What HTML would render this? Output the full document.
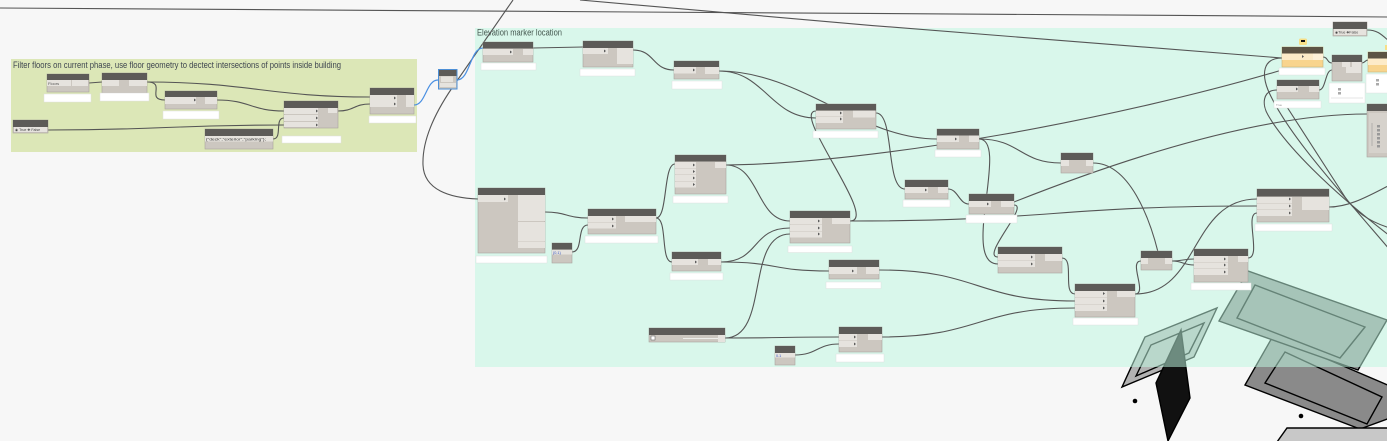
<!DOCTYPE html>
<html><head><meta charset="utf-8"><style>
html,body{margin:0;padding:0;background:#f7f7f7;overflow:hidden}
svg{display:block}
.h{fill:#5d5b58}.b{fill:#ccc7c0;stroke:#a9a49d;stroke-width:.6}.l{fill:#e6e3de}
.p{fill:#fff;stroke:#e0e0e0;stroke-width:.5}.a{fill:#5a5a5a}
.w{fill:none;stroke:#555;stroke-width:1.1}
.bw{fill:none;stroke:#4a90e2;stroke-width:1.2}
.t{font-family:"Liberation Sans",sans-serif}
</style></head><body>
<svg width="1387" height="441" viewBox="0 0 1387 441" xmlns="http://www.w3.org/2000/svg">
<rect width="1387" height="441" fill="#f7f7f7"/>
<!-- geometry -->
<g stroke="#000" stroke-width="1.4" stroke-linejoin="miter">
<polygon points="1245,385 1273,336 1390,386 1390,418 1360,429" fill="#8a8a8a"/>
<polygon points="1265,383 1285,352 1382,397 1367,424" fill="none"/>
<polygon points="1219,321 1248,271 1387,320 1358,370" fill="#8a8a8a"/>
<polygon points="1237,318 1255,285 1365,327 1340,358" fill="none"/>
<polygon points="1122,387 1145,337 1217,308 1194,357" fill="#b2b2b2"/>
<polygon points="1136,376 1151,345 1204,323 1189,353" fill="none"/>
<polygon points="1181,330 1190,398 1168,441 1156,383" fill="#111"/>
<polygon points="1277,442 1287,428 1390,428 1390,442" fill="#c8c8c8"/>
</g>
<circle cx="1135" cy="401" r="2.3" fill="#000"/>
<circle cx="1301" cy="416" r="2.3" fill="#000"/>
<!-- groups -->
<rect x="11" y="59" width="406" height="93" fill="#dce7b7"/>
<rect x="475" y="28" width="912" height="339" fill="rgb(191,248,225)" fill-opacity="0.53"/>
<text class="t" x="13" y="68" font-size="9" fill="#3f4650" textLength="328" lengthAdjust="spacingAndGlyphs">Filter floors on current phase, use floor geometry to dectect intersections of points inside building</text>
<text class="t" x="477" y="35.5" font-size="9" fill="#44574f" textLength="85" lengthAdjust="spacingAndGlyphs">Elevation marker location</text>
<!-- wires -->
<path class="w" d="M0 8 C400 10 900 13 1387 17" stroke="#666"/>
<path class="w" d="M580 0 C800 20 1100 45 1282 58"/>
<path class="w" d="M513 0 L452 88 C435 113 422 140 423 165 C424 190 450 198 478 199"/>
<path class="w" d="M89 83 L102 82"/>
<path class="w" d="M147 82 C247 82 270 97 370 97"/>
<path class="w" d="M147 82 C167 82 145 100 165 100"/>
<path class="w" d="M217 100 C250 100 251 111 284 111"/>
<path class="w" d="M48 130 C166 130 166 125 284 125"/>
<path class="w" d="M273 139 C283 139 274 118 284 118"/>
<path class="w" d="M338 111 C354 111 354 104 370 104"/>
<path class="bw" d="M414 105 C426 105 426 80 438 80"/>
<path class="bw" d="M457 80 C470 80 470 48 483 48"/>
<path class="w" d="M533 48 L583 47"/>
<path class="w" d="M633 50 C655 50 652 70 674 70"/>
<path class="w" d="M719 71 C765 71 770 118 816 118"/>
<path class="w" d="M719 71 C800 71 860 139 937 139"/>
<path class="w" d="M876 113 C895 113 885 189 905 189"/>
<path class="w" d="M850 221 C880 221 790 111 816 111"/>
<path class="w" d="M979 139 C1020 139 1020 163 1061 163"/>
<path class="w" d="M979 139 C1010 139 960 264 998 264"/>
<path class="w" d="M726 165 C880 163 1120 118 1282 70"/>
<path class="w" d="M726 165 C760 165 756 221 790 221"/>
<path class="w" d="M545 212 C566 212 567 218 588 218"/>
<path class="w" d="M572 252 C584 252 576 225 588 225"/>
<path class="w" d="M656 218 C668 218 663 164 675 164"/>
<path class="w" d="M656 218 C668 218 660 262 672 262"/>
<path class="w" d="M721 262 C760 262 751 228 790 228"/>
<path class="w" d="M721 262 C780 262 770 271 829 271"/>
<path class="w" d="M725 338 C770 338 745 234 790 234"/>
<path class="w" d="M725 338 C780 338 784 337 839 337"/>
<path class="w" d="M795 355 C817 355 817 344 839 344"/>
<path class="w" d="M850 221 C1050 221 1057 206 1257 206"/>
<path class="w" d="M879 270 C980 270 975 301 1075 301"/>
<path class="w" d="M882 337 C980 337 977 308 1075 308"/>
<path class="w" d="M948 189 C958 189 959 204 969 204"/>
<path class="w" d="M1014 202 C1100 168 1250 114 1367 114"/>
<path class="w" d="M1014 205 C1030 205 980 257 998 257"/>
<path class="w" d="M1062 258 C1075 258 1062 294 1075 294"/>
<path class="w" d="M1093 163 C1130 163 1150 220 1158 252"/>
<path class="w" d="M1135 294 C1148 294 1128 261 1141 261"/>
<path class="w" d="M1135 294 C1200 294 1190 199 1257 199"/>
<path class="w" d="M1172 261 C1183 261 1183 259 1194 259"/>
<path class="w" d="M1172 261 C1183 261 1183 265 1194 265"/>
<path class="w" d="M1248 258 C1262 258 1244 213 1257 213"/>
<path class="w" d="M1329 207 C1350 207 1370 195 1390 185"/>
<path class="w" d="M1282 58 C1262 58 1262 75 1268 90 C1285 130 1330 180 1390 250"/>
<path class="w" d="M1277 90 C1262 90 1262 105 1268 115 C1285 145 1330 190 1390 236"/>
<path class="w" d="M1287 107 L1345 197 C1355 212 1370 222 1390 228"/>
<path class="w" d="M1323 57 C1328 57 1327 63 1332 63"/>
<path class="w" d="M1319 90 C1326 90 1325 70 1332 70"/>
<path class="w" d="M1362 63 C1365 63 1365 60 1368 60"/>
<path class="w" d="M1367 30 C1378 30 1382 35 1390 42"/>
<!-- group 1 nodes -->
<rect class="b" x="47" y="74" width="42" height="18"/><rect class="h" x="47" y="74" width="42" height="6"/>
<rect class="l" x="47" y="80" width="24" height="6"/><rect class="l" x="72" y="80" width="16" height="6"/>
<text class="t" x="48" y="85" font-size="4" fill="#555">Floors</text>
<rect class="p" x="44" y="94" width="47" height="8"/>
<rect class="b" x="102" y="73" width="45" height="20"/><rect class="h" x="102" y="73" width="45" height="7"/>
<rect class="l" x="102" y="80" width="17" height="6"/><rect class="l" x="129" y="80" width="18" height="6"/>
<rect class="p" x="100" y="93" width="49" height="8"/>
<rect class="b" x="165" y="91" width="52" height="18"/><rect class="h" x="165" y="91" width="52" height="6"/>
<rect class="l" x="165" y="97" width="31" height="7"/><path class="a" d="M194 98.5l2 1.5-2 1.5z"/><rect class="l" x="205" y="97" width="12" height="7"/>
<rect class="p" x="163" y="111" width="56" height="8"/>
<rect class="b" x="284" y="101" width="54" height="27"/><rect class="h" x="284" y="101" width="54" height="7"/>
<rect class="l" x="284" y="108" width="34" height="6"/><rect class="l" x="284" y="115" width="34" height="6"/><rect class="l" x="284" y="122" width="34" height="5"/>
<path class="a" d="M316 109.5l2 1.5-2 1.5zM316 116.5l2 1.5-2 1.5zM316 123.5l2 1.5-2 1.5z"/>
<rect class="l" x="328" y="108" width="9" height="5"/>
<rect class="p" x="282" y="136" width="59" height="7"/>
<rect class="b" x="370" y="88" width="44" height="26"/><rect class="h" x="370" y="88" width="44" height="7"/>
<rect class="l" x="370" y="95" width="27" height="6"/><rect class="l" x="370" y="101" width="27" height="6"/>
<path class="a" d="M394 96.5l2 1.5-2 1.5zM394 102.5l2 1.5-2 1.5z"/><rect class="l" x="406" y="95" width="8" height="12"/>
<rect class="p" x="369" y="116" width="47" height="7"/>
<rect class="b" x="13" y="120" width="35" height="13"/><rect class="h" x="13" y="120" width="35" height="7"/>
<rect class="l" x="14" y="127" width="33" height="5"/>
<text class="t" x="15" y="131" font-size="3.6" fill="#444">◉ True  ✚ False</text>
<rect class="b" x="205" y="129" width="68" height="20"/><rect class="h" x="205" y="129" width="68" height="7"/>
<rect class="l" x="205" y="136" width="68" height="5.5"/>
<text class="t" x="206" y="140.3" font-size="4" fill="#333" textLength="60" lengthAdjust="spacingAndGlyphs">{"deck","exterior","parking"};</text>
<rect x="438.5" y="69.5" width="18.5" height="19.5" fill="#ccc7c0" stroke="#4d8fd6" stroke-width="1"/>
<rect class="h" x="439" y="70" width="17.5" height="6"/><rect class="l" x="441" y="76.5" width="12" height="5.5"/><rect class="l" x="440" y="83" width="16" height="4"/>
<!-- elevation nodes -->
<rect class="b" x="483" y="42" width="50" height="20"/><rect class="h" x="483" y="42" width="50" height="6.5"/>
<rect class="l" x="483" y="49" width="30" height="6"/><path class="a" d="M510 50.5l2 1.5-2 1.5z"/><rect class="l" x="523" y="49" width="10" height="6"/>
<rect class="p" x="481" y="63" width="55" height="7"/>
<rect class="b" x="583" y="41" width="50" height="26"/><rect class="h" x="583" y="41" width="50" height="7"/>
<rect class="l" x="583" y="48" width="25" height="6"/><path class="a" d="M604 49.5l2 1.5-2 1.5z"/><rect class="l" x="617" y="48" width="16" height="16"/>
<rect class="p" x="580" y="69" width="55" height="7"/>
<rect class="b" x="674" y="61" width="45" height="18"/><rect class="h" x="674" y="61" width="45" height="6"/>
<rect class="l" x="674" y="67" width="22" height="6.5"/><path class="a" d="M693 68.5l2 1.5-2 1.5z"/><rect class="l" x="705" y="67" width="14" height="7"/>
<rect class="p" x="672" y="81" width="50" height="8"/>
<rect class="b" x="816" y="104" width="60" height="25"/><rect class="h" x="816" y="104" width="60" height="6.5"/>
<rect class="l" x="816" y="111" width="27" height="5.5"/><rect class="l" x="816" y="117" width="27" height="6"/>
<path class="a" d="M840 111.5l2 1.5-2 1.5zM840 117.5l2 1.5-2 1.5z"/><rect class="l" x="853" y="110.5" width="22" height="7"/>
<rect class="p" x="813" y="131" width="65" height="7"/>
<rect class="b" x="675" y="155" width="51" height="39"/><rect class="h" x="675" y="155" width="51" height="6.5"/>
<rect class="l" x="675" y="162" width="21" height="6"/><rect class="l" x="675" y="168.5" width="21" height="6"/><rect class="l" x="675" y="175" width="21" height="6"/><rect class="l" x="675" y="181.5" width="21" height="6"/>
<path class="a" d="M693 163.5l2 1.5-2 1.5zM693 170l2 1.5-2 1.5zM693 176.5l2 1.5-2 1.5zM693 183l2 1.5-2 1.5z"/><rect class="l" x="715" y="162" width="11" height="6"/>
<rect class="p" x="673" y="196" width="55" height="7"/>
<rect class="b" x="478" y="188" width="67" height="65"/><rect class="h" x="478" y="188" width="67" height="7"/>
<rect class="l" x="478" y="195" width="30" height="7"/><path class="a" d="M504 197.5l2 1.5-2 1.5z"/>
<rect class="l" x="518" y="195" width="27" height="26"/><rect class="l" x="518" y="222" width="27" height="19.5"/><rect class="l" x="518" y="242" width="27" height="6"/>
<rect class="p" x="476" y="256" width="71" height="7"/>
<rect class="b" x="588" y="209" width="68" height="25"/><rect class="h" x="588" y="209" width="68" height="7"/>
<rect class="l" x="588" y="216" width="28" height="6"/><rect class="l" x="588" y="222.5" width="28" height="6"/>
<path class="a" d="M612 217.5l2 1.5-2 1.5zM612 224.5l2 1.5-2 1.5z"/><rect class="l" x="625" y="216" width="31" height="6"/>
<rect class="p" x="585" y="236" width="73" height="7"/>
<rect class="b" x="552" y="243" width="20" height="20"/><rect class="h" x="552" y="243" width="20" height="6.5"/>
<rect class="l" x="552" y="250" width="20" height="4.5"/><text class="t" x="553" y="254" font-size="3.8" fill="#3b5bc4">{0,1}</text>
<rect class="b" x="672" y="252" width="49" height="19"/><rect class="h" x="672" y="252" width="49" height="7"/>
<rect class="l" x="672" y="259" width="26" height="6"/><path class="a" d="M695 260.5l2 1.5-2 1.5z"/><rect class="l" x="708" y="259" width="13" height="6"/>
<rect class="p" x="670" y="273" width="53" height="7"/>
<rect class="b" x="790" y="211" width="60" height="32"/><rect class="h" x="790" y="211" width="60" height="7"/>
<rect class="l" x="790" y="218" width="32" height="6"/><rect class="l" x="790" y="224.5" width="32" height="6.5"/><rect class="l" x="790" y="231.5" width="32" height="6"/>
<path class="a" d="M818 219.5l2 1.5-2 1.5zM818 226.5l2 1.5-2 1.5zM818 232.5l2 1.5-2 1.5z"/><rect class="l" x="832" y="218" width="18" height="6"/>
<rect class="p" x="788" y="246" width="64" height="6.5"/>
<rect class="b" x="829" y="260" width="50" height="19"/><rect class="h" x="829" y="260" width="50" height="7"/>
<rect class="l" x="829" y="267" width="28" height="7"/><path class="a" d="M852 269.5l2 1.5-2 1.5z"/><rect class="l" x="866" y="267" width="13" height="7"/>
<rect class="p" x="826" y="282" width="55" height="6.5"/>
<rect class="b" x="649" y="328" width="76" height="14"/><rect class="h" x="649" y="328" width="76" height="7"/>
<rect x="651" y="336" width="4" height="4" fill="#fff" stroke="#555" stroke-width=".5"/>
<line x1="683" y1="338.5" x2="718" y2="338.5" stroke="#eeeeea" stroke-width="1"/><rect class="l" x="718" y="335" width="7" height="7"/>
<rect class="b" x="775" y="346" width="20" height="19"/><rect class="h" x="775" y="346" width="20" height="7"/>
<rect class="l" x="775" y="353" width="20" height="4.5"/><text class="t" x="776" y="357" font-size="3.8" fill="#3b5bc4">0.1</text>
<rect class="b" x="839" y="327" width="43" height="25"/><rect class="h" x="839" y="327" width="43" height="7"/>
<rect class="l" x="839" y="334" width="18" height="6.5"/><rect class="l" x="839" y="341" width="18" height="6"/>
<path class="a" d="M854 335.5l2 1.5-2 1.5zM854 342.5l2 1.5-2 1.5z"/><rect class="l" x="868" y="334" width="14" height="6"/>
<rect class="p" x="836" y="354" width="48" height="8"/>
<rect class="b" x="937" y="129" width="42" height="20"/><rect class="h" x="937" y="129" width="42" height="6.5"/>
<rect class="l" x="937" y="135.5" width="22" height="6.5"/><path class="a" d="M955 137.5l2 1.5-2 1.5z"/><rect class="l" x="969" y="135.5" width="10" height="6.5"/>
<rect class="p" x="935" y="150" width="46" height="7"/>
<rect class="b" x="1061" y="153" width="32" height="20"/><rect class="h" x="1061" y="153" width="32" height="7"/>
<rect class="l" x="1061" y="160" width="8" height="6"/><rect class="l" x="1086" y="160" width="7" height="6"/>
<rect class="b" x="905" y="180" width="43" height="19"/><rect class="h" x="905" y="180" width="43" height="7"/>
<rect class="l" x="905" y="187" width="23" height="6"/><path class="a" d="M925 188.5l2 1.5-2 1.5z"/><rect class="l" x="938" y="187" width="10" height="6"/>
<rect class="p" x="903" y="200" width="47" height="7"/>
<rect class="b" x="969" y="194" width="45" height="20"/><rect class="h" x="969" y="194" width="45" height="7"/>
<rect class="l" x="969" y="201" width="22" height="6"/><path class="a" d="M987 202.5l2 1.5-2 1.5z"/><rect class="l" x="1001" y="201" width="13" height="6"/>
<rect class="p" x="966" y="215" width="51" height="8"/>
<rect class="b" x="998" y="247" width="64" height="26"/><rect class="h" x="998" y="247" width="64" height="7"/>
<rect class="l" x="998" y="254" width="37" height="6"/><rect class="l" x="998" y="260.5" width="37" height="6.5"/>
<path class="a" d="M1031 255.5l2 1.5-2 1.5zM1031 262.5l2 1.5-2 1.5z"/><rect class="l" x="1045" y="254" width="17" height="7"/>
<rect class="b" x="1075" y="284" width="60" height="33"/><rect class="h" x="1075" y="284" width="60" height="7"/>
<rect class="l" x="1075" y="291" width="32" height="6.5"/><rect class="l" x="1075" y="298" width="32" height="6.5"/><rect class="l" x="1075" y="305" width="32" height="6"/>
<path class="a" d="M1103 292l2 1.5-2 1.5zM1103 299.5l2 1.5-2 1.5zM1103 306.5l2 1.5-2 1.5z"/><rect class="l" x="1117" y="291" width="18" height="6"/>
<rect class="p" x="1073" y="318" width="65" height="7"/>
<rect class="b" x="1141" y="251" width="31" height="19"/><rect class="h" x="1141" y="251" width="31" height="7"/>
<rect class="l" x="1141" y="258" width="7" height="6"/><rect class="l" x="1165" y="258" width="7" height="6"/>
<rect class="b" x="1194" y="249" width="54" height="33"/><rect class="h" x="1194" y="249" width="54" height="7"/>
<rect class="l" x="1194" y="256" width="34" height="6"/><rect class="l" x="1194" y="262.5" width="34" height="6"/><rect class="l" x="1194" y="269" width="34" height="6"/>
<path class="a" d="M1224 257.5l2 1.5-2 1.5zM1224 263.5l2 1.5-2 1.5zM1224 270.5l2 1.5-2 1.5z"/><rect class="l" x="1238" y="256" width="10" height="6"/>
<rect class="p" x="1191" y="283" width="60" height="7"/>
<rect class="b" x="1257" y="189" width="72" height="33"/><rect class="h" x="1257" y="189" width="72" height="7.5"/>
<rect class="l" x="1257" y="197" width="35" height="6"/><rect class="l" x="1257" y="203.5" width="35" height="6"/><rect class="l" x="1257" y="210" width="35" height="6"/>
<path class="a" d="M1289 197.5l2 1.5-2 1.5zM1289 204.5l2 1.5-2 1.5zM1289 211.5l2 1.5-2 1.5z"/><rect class="l" x="1302" y="197" width="27" height="13"/>
<rect class="p" x="1255" y="224" width="77" height="7"/>
<!-- right cluster -->
<rect class="b" x="1333" y="22" width="34" height="14"/><rect class="h" x="1333" y="22" width="34" height="7"/>
<rect class="l" x="1334" y="29" width="32" height="6"/><text class="t" x="1335" y="33.5" font-size="3.6" fill="#444">◉True ✚False</text>
<rect x="1299" y="38.5" width="8" height="6.5" rx="1.5" fill="#f7df87"/><rect x="1301" y="40" width="4" height="2" fill="#111"/>
<rect x="1282" y="47" width="41" height="20" fill="#f8d48d" stroke="#c9b37a" stroke-width=".6"/>
<rect x="1282" y="47" width="41" height="6.5" fill="#5c5344"/>
<rect x="1282" y="53.5" width="31" height="6.5" fill="#fdebc8"/><rect x="1313" y="53.5" width="10" height="6.5" fill="#fef1d8"/>
<path class="a" d="M1302 55l2 1.5-2 1.5z"/>
<rect class="p" x="1279" y="68" width="46" height="7"/>
<rect class="b" x="1277" y="80" width="42" height="19"/><rect class="h" x="1277" y="80" width="42" height="6"/>
<rect class="l" x="1277" y="86" width="21" height="6"/><path class="a" d="M1296 87.5l2 1.5-2 1.5z"/><rect class="l" x="1309" y="86" width="10" height="6"/>
<rect class="p" x="1274" y="101" width="47" height="7"/><text class="t" x="1276" y="106" font-size="3" fill="#999">True</text>
<rect class="b" x="1332" y="55" width="30" height="26"/><rect class="h" x="1332" y="55" width="30" height="7"/>
<rect class="l" x="1342" y="62" width="8" height="5"/><rect class="l" x="1352" y="62" width="9" height="5"/><rect class="l" x="1346" y="67" width="15" height="6"/>
<rect class="p" x="1329" y="83" width="36" height="20"/>
<rect x="1338" y="88" width="3" height="2.5" fill="#aaa"/><rect x="1338" y="92" width="3" height="2.5" fill="#aaa"/>
<line x1="1331" y1="98" x2="1363" y2="98" stroke="#ccc" stroke-width=".5"/>
<rect x="1368" y="52" width="22" height="20" fill="#f8d48d" stroke="#c9b37a" stroke-width=".6"/>
<rect x="1368" y="52" width="22" height="6.5" fill="#5c5344"/><rect x="1368" y="58.5" width="22" height="6.5" fill="#fdebc8"/>
<rect x="1385" y="45" width="4" height="5" fill="#f7df87"/>
<rect class="p" x="1366" y="74" width="24" height="19"/>
<rect x="1376" y="79" width="3" height="2.5" fill="#aaa"/><rect x="1376" y="83" width="3" height="2.5" fill="#aaa"/>
<rect class="b" x="1367" y="104" width="23" height="53"/><rect class="h" x="1367" y="104" width="23" height="7"/>
<rect x="1369" y="113" width="20" height="40" fill="#d6d2cc"/>
<line x1="1372" y1="123" x2="1372" y2="146" stroke="#999" stroke-width=".6"/>
<rect x="1377" y="125" width="3" height="2.5" fill="#999"/><rect x="1377" y="129" width="3" height="2.5" fill="#999"/><rect x="1377" y="133" width="3" height="2.5" fill="#999"/><rect x="1377" y="137" width="3" height="2.5" fill="#999"/><rect x="1377" y="141" width="3" height="2.5" fill="#999"/><rect x="1377" y="145" width="3" height="2.5" fill="#999"/>
</svg>
</body></html>
